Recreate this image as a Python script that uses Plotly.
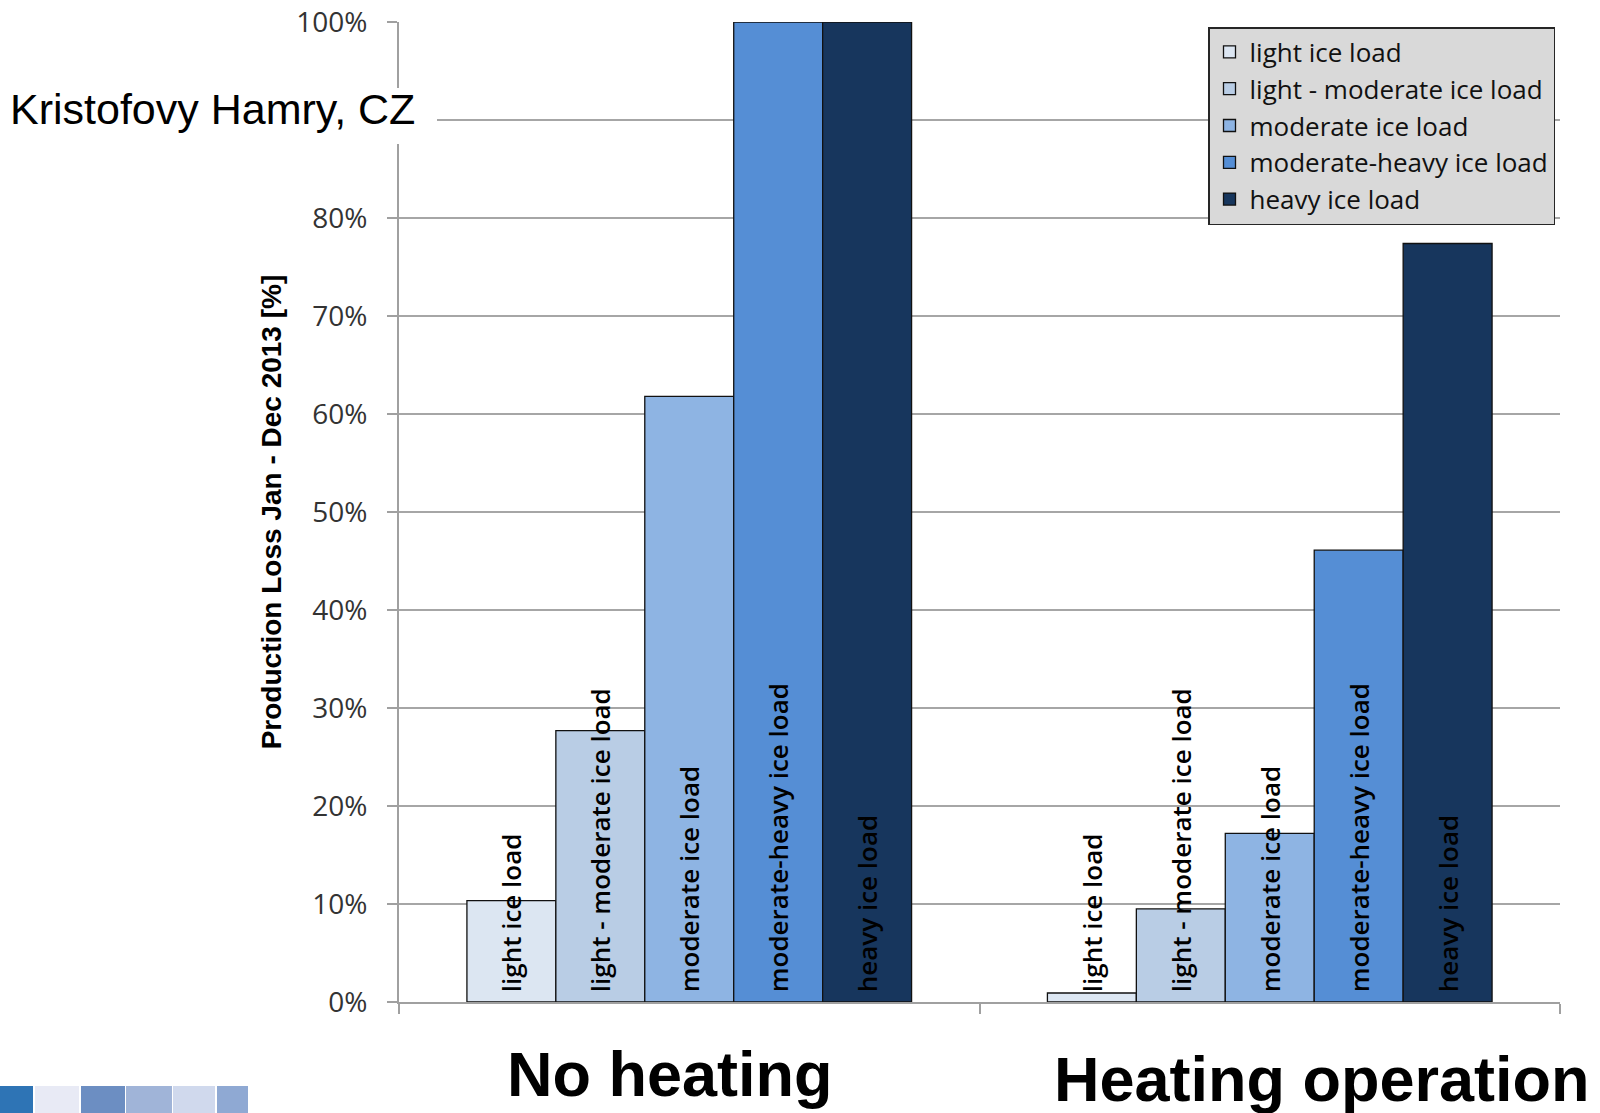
import plotly.graph_objects as go

# ---- data ----
groups = ["No heating", "Heating operation"]
series = ["light ice load", "light - moderate ice load", "moderate ice load",
          "moderate-heavy ice load", "heavy ice load"]
light = [10.35, 0.92]
light_moderate = [27.7, 9.5]
moderate = [61.8, 17.2]
moderate_heavy = [100.0, 46.1]
heavy = [100.0, 77.4]
values = [light, light_moderate, moderate, moderate_heavy, heavy]
colors = ["#DCE6F2", "#B9CDE5", "#8EB4E3", "#558ED5", "#17365D"]
y_tick_vals = [0, 10, 20, 30, 40, 50, 60, 70, 80, 90, 100]
y_tick_text = ["0%", "10%", "20%", "30%", "40%", "50%", "60%", "70%", "80%", "90%", "100%"]
title_text = "Kristofovy Hamry, CZ"
y_title = "Production Loss Jan - Dec 2013 [%]"

W, H = 1600, 1113
L, R, T, B = 399, 40, 22, 111
PW = W - L - R
PH = H - T - B


def px(x):
    return (x - L) / PW


def py(y):
    return (H - B - y) / PH


fig = go.Figure()
for name, vals, col in zip(series, values, colors):
    fig.add_trace(go.Bar(
        x=groups, y=vals, name=name,
        marker=dict(color=col, line=dict(color="#111111", width=1.3)),
        text=["\u00a0" + name] * len(groups),
        textposition="inside", insidetextanchor="start", textangle=-90,
        constraintext="none", cliponaxis=False,
        insidetextfont=dict(family="Open Sans", size=26, color="black", weight=600),
        hoverinfo="skip",
    ))

shapes = []
# white box behind the location title
shapes.append(dict(type="rect", xref="paper", yref="paper",
                   x0=px(0), x1=px(437), y0=py(144), y1=py(88),
                   fillcolor="white", line=dict(width=0), layer="above"))
# decorative squares at bottom left
deco = [(0, 33, "#2E74B5"), (35, 79, "#E8EAF5"), (81, 125, "#6C8EC2"),
        (126, 172, "#A0B4D8"), (173, 215, "#D0D9ED"), (217, 248, "#8FA9D3")]
for x0, x1, c in deco:
    shapes.append(dict(type="rect", xref="paper", yref="paper",
                       x0=px(x0), x1=px(x1), y0=py(1113), y1=py(1086),
                       fillcolor=c, line=dict(width=0), layer="above"))

annotations = [
    dict(text=title_text, xref="paper", yref="paper", x=px(8), y=py(109),
         xanchor="left", yanchor="middle", showarrow=False,
         font=dict(family="Liberation Sans, Arial", size=43, color="black")),
    dict(text="<b>%s</b>" % groups[0], xref="paper", yref="paper", x=px(670), y=py(1074),
         xanchor="center", yanchor="middle", showarrow=False,
         font=dict(family="Liberation Sans, Arial", size=63, color="black")),
    dict(text="<b>%s</b>" % groups[1], xref="paper", yref="paper", x=px(1322), y=py(1079),
         xanchor="center", yanchor="middle", showarrow=False,
         font=dict(family="Liberation Sans, Arial", size=63, color="black")),
]

fig.update_layout(
    width=W, height=H,
    margin=dict(l=L, r=R, t=T, b=B, autoexpand=False),
    paper_bgcolor="white", plot_bgcolor="white",
    barmode="group", bargap=0.234, bargroupgap=0,
    showlegend=True,
    legend=dict(x=px(1208), y=py(27), xanchor="left", yanchor="top",
                bgcolor="#D9D9D9", bordercolor="#262626", borderwidth=1.5,
                font=dict(family="Open Sans", size=26, color="#111111"),
                traceorder="normal"),
    xaxis=dict(showticklabels=False, ticks="outside", tickson="boundaries",
               ticklen=10, tickcolor="#A0A0A0", tickwidth=2,
               showline=True, linecolor="#A0A0A0", linewidth=2,
               showgrid=False, zeroline=False),
    yaxis=dict(range=[0, 100], tickvals=y_tick_vals, ticktext=y_tick_text,
               ticks="outside", ticklen=10, tickcolor="#A0A0A0", tickwidth=2,
               showline=True, linecolor="#A0A0A0", linewidth=2,
               showgrid=True, gridcolor="#A6A6A6", gridwidth=1.5,
               zeroline=False, ticklabelstandoff=14,
               tickfont=dict(family="Open Sans", size=28, color="#333333"),
               title=dict(text="<b>%s</b>" % y_title, standoff=6,
                          font=dict(family="Liberation Sans Narrow, Liberation Sans", size=28,
                                    color="black"))),
    shapes=shapes,
    annotations=annotations,
)

fig.write_html("out.html", config={"displayModeBar": False},
               post_script="document.body.style.margin='0px';document.body.style.overflow='hidden';")
